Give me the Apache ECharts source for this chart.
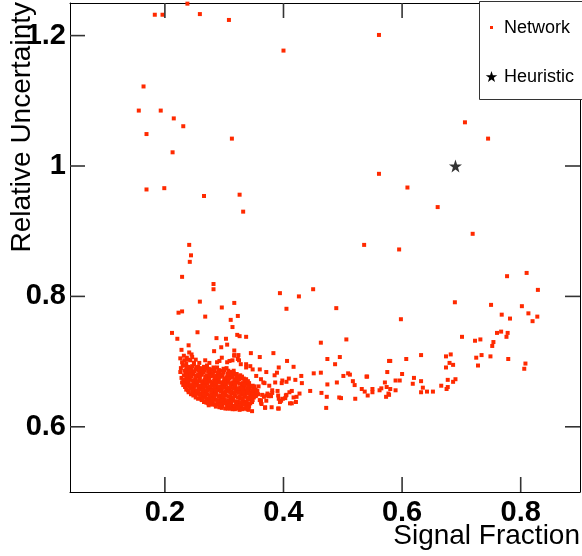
<!DOCTYPE html>
<html>
<head>
<meta charset="utf-8">
<script src="https://cdn.jsdelivr.net/npm/echarts@6/dist/echarts.min.js"></script>
<style>
html,body{margin:0;padding:0;background:#fff;}
#chart{width:582px;height:556px;}
</style>
</head>
<body>
<div id="chart"></div>
<script>
// ---- data ----
const xTicks = [0.2, 0.4, 0.6, 0.8];
const xTickLabels = ['0.2', '0.4', '0.6', '0.8'];
const yTicks = [0.6, 0.8, 1.0, 1.2];
const yTickLabels = ['0.6', '0.8', '1', '1.2'];
const xTitle = 'Signal Fraction';
const yTitle = 'Relative Uncertainty';
const seriesNames = ['Network', 'Heuristic'];

const heuristicPoint = [[0.69, 1.0]];

const sparseHigh = [
[0.238,1.249],[0.183,1.232],[0.196,1.232],[0.259,1.233],[0.308,1.224],[0.400,1.177],[0.164,1.122],[0.156,1.085],[0.193,1.085],[0.215,1.073],[0.231,1.061],[0.169,1.049],[0.313,1.042],[0.213,1.021],[0.169,0.964],[0.199,0.966],[0.266,0.954],[0.326,0.956],[0.332,0.930],
[0.561,1.201],[0.706,1.067],[0.745,1.042],[0.561,0.988],[0.609,0.967],[0.660,0.937],[0.719,0.896],[0.536,0.879],[0.595,0.872],
[0.241,0.879],[0.244,0.863],[0.242,0.853],[0.229,0.830],[0.282,0.819],[0.282,0.811],[0.394,0.805],[0.450,0.811],[0.426,0.800],[0.259,0.792],[0.317,0.790],[0.296,0.783],[0.405,0.781],[0.489,0.782],[0.223,0.775],[0.229,0.777],[0.268,0.769],[0.323,0.770],[0.311,0.764],[0.314,0.753],[0.212,0.744],[0.255,0.745],[0.221,0.735],[0.287,0.736],[0.303,0.735],[0.322,0.741],[0.326,0.739],[0.337,0.738],[0.506,0.734]
];

const sparseRight = [
[0.777,0.831],[0.810,0.836],[0.829,0.810],[0.689,0.791],[0.598,0.765],[0.750,0.787],[0.802,0.785],[0.768,0.772],[0.782,0.766],[0.813,0.774],[0.820,0.762],[0.828,0.769],[0.701,0.738],[0.760,0.744],[0.767,0.746],[0.778,0.744],[0.776,0.738],[0.723,0.732],[0.732,0.734],[0.754,0.730],[0.752,0.724],[0.725,0.706],[0.734,0.710],[0.749,0.708],[0.779,0.704],[0.728,0.694],[0.808,0.697],[0.806,0.689],[0.674,0.708],[0.682,0.711],[0.680,0.698],[0.686,0.695],[0.674,0.691],[0.632,0.710],[0.607,0.704],[0.580,0.701],[0.575,0.684],[0.540,0.677],[0.600,0.681],[0.620,0.675],[0.632,0.670],[0.618,0.666],[0.571,0.668],[0.589,0.671],[0.596,0.671],[0.690,0.673],[0.677,0.672],[0.666,0.663],[0.677,0.661],[0.675,0.658],[0.635,0.660],[0.632,0.653],[0.642,0.654],[0.652,0.654],[0.532,0.658],[0.537,0.654],[0.542,0.648],[0.550,0.658],[0.550,0.653],[0.562,0.656],[0.565,0.659],[0.580,0.658],[0.589,0.656],[0.573,0.646],[0.577,0.651],[0.574,0.661],[0.578,0.649],[0.686,0.669]
];

const sparseMiddle = [
[0.240,0.725],[0.228,0.718],[0.241,0.714],[0.245,0.711],[0.295,0.722],[0.283,0.716],[0.317,0.717],[0.317,0.710],[0.324,0.710],[0.345,0.713],[0.383,0.713],[0.360,0.707],[0.296,0.706],[0.314,0.702],[0.325,0.702],[0.305,0.699],[0.288,0.699],[0.406,0.701],[0.417,0.692],[0.337,0.696],[0.344,0.693],[0.360,0.688],[0.371,0.684],[0.392,0.691],[0.389,0.683],[0.385,0.679],[0.398,0.671],[0.409,0.674],[0.420,0.672],[0.430,0.678],[0.431,0.667],[0.451,0.682],[0.463,0.683],[0.474,0.665],[0.490,0.668],[0.501,0.678],[0.512,0.680],[0.509,0.682],[0.495,0.707],[0.463,0.729],[0.474,0.704],[0.487,0.696],[0.517,0.670],[0.520,0.664],[0.541,0.677],[0.445,0.655],[0.464,0.652],[0.473,0.646],[0.472,0.629],[0.494,0.645],[0.497,0.644],[0.521,0.643],[0.414,0.636],[0.421,0.638],[0.422,0.646],[0.394,0.638],[0.399,0.643],[0.391,0.628],[0.405,0.649],[0.391,0.648],[0.380,0.630],[0.369,0.630],[0.375,0.647],[0.360,0.641],[0.347,0.624],[0.339,0.627],[0.274,0.633],[0.305,0.726],[0.578,0.701],
[0.386,0.668],[0.368,0.667],[0.362,0.673],[0.410,0.653],[0.414,0.655],[0.427,0.651],[0.396,0.640],[0.392,0.643],[0.390,0.655],[0.381,0.656],[0.381,0.652],[0.376,0.649],[0.371,0.648],[0.373,0.651],[0.367,0.646],[0.364,0.649],[0.362,0.640],[0.363,0.635],[0.369,0.629],[0.392,0.628],[0.404,0.648],[0.411,0.636],[0.417,0.645],[0.403,0.644],[0.358,0.662],[0.397,0.667],[0.405,0.669],[0.321,0.628],[0.341,0.626],
[0.230,0.694],[0.249,0.698],[0.258,0.698],[0.268,0.702],[0.275,0.698],[0.292,0.701],[0.309,0.701],[0.317,0.709],[0.323,0.704],[0.328,0.696],[0.337,0.691],[0.348,0.688],[0.354,0.678],[0.366,0.668],[0.376,0.663],[0.379,0.647],[0.371,0.640],[0.362,0.637],
[0.226,0.705],[0.233,0.702],[0.229,0.699],[0.237,0.706],[0.243,0.702],[0.236,0.697],
[0.232,0.709],[0.239,0.703],[0.246,0.707],[0.252,0.703],[0.227,0.690],[0.226,0.684],[0.228,0.675],[0.229,0.668]
];

const denseCluster = [
[0.233,0.694],[0.241,0.691],[0.249,0.696],[0.256,0.692],[0.263,0.689],[0.271,0.694],[0.279,0.688],[0.288,0.691],[0.296,0.686],[0.304,0.690],[0.313,0.684],
[0.236,0.687],[0.244,0.684],[0.252,0.688],[0.259,0.683],[0.267,0.686],[0.275,0.682],[0.283,0.685],[0.291,0.680],[0.299,0.683],[0.308,0.679],[0.316,0.682],[0.324,0.677],
[0.232,0.679],[0.239,0.676],[0.247,0.680],[0.255,0.677],[0.262,0.680],[0.270,0.675],[0.278,0.678],[0.286,0.674],[0.294,0.677],[0.302,0.673],[0.311,0.676],[0.319,0.671],[0.327,0.674],[0.334,0.670],
[0.234,0.671],[0.242,0.673],[0.250,0.669],[0.258,0.672],[0.266,0.668],[0.273,0.671],[0.281,0.667],[0.289,0.670],[0.297,0.666],[0.305,0.669],[0.314,0.665],[0.322,0.668],[0.330,0.664],[0.338,0.667],[0.345,0.662],
[0.231,0.664],[0.238,0.666],[0.246,0.662],[0.254,0.665],[0.261,0.661],[0.269,0.664],[0.277,0.660],[0.285,0.663],[0.293,0.659],[0.301,0.662],[0.309,0.658],[0.317,0.661],[0.325,0.657],[0.333,0.660],[0.341,0.656],[0.349,0.659],[0.356,0.655],
[0.236,0.657],[0.243,0.659],[0.251,0.655],[0.259,0.658],[0.267,0.654],[0.274,0.657],[0.282,0.653],[0.290,0.656],[0.298,0.652],[0.306,0.655],[0.313,0.651],[0.321,0.654],[0.329,0.650],[0.337,0.653],[0.344,0.649],[0.352,0.652],
[0.248,0.648],[0.256,0.651],[0.264,0.647],[0.271,0.650],[0.279,0.646],[0.287,0.649],[0.295,0.645],[0.303,0.648],[0.311,0.644],[0.319,0.647],[0.327,0.643],[0.335,0.646],[0.342,0.642],[0.350,0.645],
[0.262,0.641],[0.270,0.643],[0.277,0.639],[0.285,0.642],[0.293,0.638],[0.301,0.641],[0.308,0.637],[0.316,0.640],[0.324,0.636],[0.332,0.639],[0.340,0.635],[0.347,0.638],
[0.281,0.634],[0.289,0.636],[0.297,0.632],[0.305,0.634],[0.313,0.631],[0.321,0.633],[0.329,0.630],[0.337,0.632],
[0.302,0.628],[0.318,0.627],[0.326,0.626],
[0.237,0.690],[0.245,0.688],[0.253,0.691],[0.260,0.687],[0.268,0.690],[0.276,0.686],[0.284,0.688],[0.292,0.684],[0.300,0.687],[0.309,0.682],[0.318,0.680],
[0.235,0.683],[0.240,0.681],[0.248,0.684],[0.256,0.680],[0.264,0.683],[0.271,0.679],[0.280,0.682],[0.287,0.678],[0.296,0.680],[0.304,0.676],[0.313,0.679],[0.321,0.675],[0.330,0.677],
[0.236,0.675],[0.244,0.677],[0.251,0.673],[0.259,0.676],[0.267,0.672],[0.275,0.674],[0.283,0.671],[0.291,0.673],[0.299,0.669],[0.307,0.672],[0.315,0.668],[0.323,0.671],[0.331,0.667],[0.340,0.670],
[0.233,0.668],[0.240,0.669],[0.248,0.666],[0.255,0.669],[0.263,0.665],[0.271,0.667],[0.279,0.664],[0.287,0.666],[0.295,0.662],[0.303,0.665],[0.311,0.661],[0.319,0.664],[0.327,0.660],[0.335,0.663],[0.343,0.659],[0.351,0.662],
[0.234,0.661],[0.241,0.662],[0.249,0.659],[0.257,0.661],[0.265,0.658],[0.272,0.660],[0.280,0.657],[0.288,0.659],[0.296,0.655],[0.304,0.658],[0.312,0.654],[0.320,0.657],[0.328,0.653],[0.336,0.656],[0.345,0.652],[0.354,0.648],
[0.240,0.653],[0.247,0.652],[0.254,0.654],[0.262,0.651],[0.270,0.653],[0.278,0.650],[0.286,0.652],[0.294,0.648],[0.302,0.651],[0.310,0.647],[0.318,0.650],[0.326,0.646],[0.334,0.649],[0.341,0.645],[0.348,0.641],
[0.252,0.645],[0.260,0.644],[0.268,0.646],[0.275,0.643],[0.283,0.645],[0.291,0.641],[0.299,0.644],[0.307,0.640],[0.315,0.643],[0.323,0.639],[0.331,0.642],[0.338,0.638],
[0.266,0.638],[0.273,0.636],[0.281,0.638],[0.289,0.635],[0.297,0.637],[0.305,0.631],[0.312,0.634],[0.320,0.630],[0.328,0.633],[0.334,0.628],
[0.342,0.631],[0.292,0.630],[0.310,0.628],
[0.239,0.692],[0.246,0.693],[0.259,0.690],[0.266,0.692],[0.274,0.689],[0.282,0.691],[0.291,0.687],[0.299,0.689],[0.307,0.686],[0.316,0.686],[0.321,0.681],
[0.233,0.686],[0.242,0.686],[0.250,0.685],[0.257,0.686],[0.265,0.684],[0.273,0.685],[0.281,0.680],[0.289,0.683],[0.297,0.679],[0.306,0.681],[0.314,0.677],[0.327,0.679],[0.333,0.674],
[0.237,0.679],[0.243,0.680],[0.252,0.678],[0.260,0.679],[0.268,0.677],[0.276,0.678],[0.284,0.676],[0.292,0.677],[0.300,0.674],[0.309,0.674],[0.317,0.673],[0.325,0.673],[0.337,0.673],[0.342,0.667],
[0.231,0.672],[0.238,0.671],[0.246,0.671],[0.253,0.670],[0.261,0.670],[0.269,0.670],[0.277,0.669],[0.285,0.669],[0.293,0.668],[0.301,0.667],[0.310,0.667],[0.318,0.666],[0.326,0.666],[0.334,0.665],[0.341,0.664],[0.348,0.663],
[0.236,0.663],[0.244,0.664],[0.251,0.663],[0.259,0.663],[0.267,0.662],[0.275,0.662],[0.283,0.661],[0.291,0.661],[0.299,0.660],[0.307,0.660],[0.315,0.659],[0.323,0.659],[0.331,0.658],[0.339,0.658],[0.347,0.655],[0.353,0.657],
[0.239,0.656],[0.246,0.656],[0.256,0.656],[0.263,0.656],[0.271,0.656],[0.278,0.655],[0.286,0.655],[0.294,0.654],[0.302,0.654],[0.310,0.653],[0.317,0.653],[0.325,0.652],[0.333,0.652],[0.340,0.651],[0.348,0.650],[0.357,0.650],
[0.244,0.650],[0.252,0.650],[0.259,0.649],[0.267,0.649],[0.275,0.648],[0.283,0.648],[0.291,0.647],[0.299,0.647],[0.307,0.646],[0.315,0.645],[0.323,0.645],[0.331,0.644],[0.339,0.644],[0.346,0.645],[0.353,0.647],
[0.256,0.643],[0.264,0.642],[0.272,0.641],[0.280,0.641],[0.288,0.640],[0.296,0.640],[0.304,0.639],[0.312,0.639],[0.320,0.638],[0.328,0.637],[0.336,0.636],[0.344,0.636],
[0.270,0.637],[0.277,0.635],[0.285,0.634],[0.293,0.634],[0.301,0.636],[0.309,0.633],[0.317,0.632],[0.325,0.632],[0.333,0.634],[0.339,0.630],
[0.286,0.631],[0.296,0.629],[0.306,0.628],[0.314,0.627],[0.323,0.629],[0.331,0.627]
];

const networkPoints = [].concat(sparseHigh, sparseRight, sparseMiddle, denseCluster);

// ---- chart ----
const RED = '#ff2a00';
const STAR = 'path://M50,0 L61.8,35.1 L98.1,35.1 L68.8,56.8 L79.4,91 L50,70 L20.6,91 L31.2,56.8 L1.9,35.1 L38.2,35.1 Z';
const FONT = '"Liberation Sans", Arial, Helvetica, sans-serif';
const X_MIN = 0.04, X_MAX = 0.9, Y_MIN = 0.5, Y_MAX = 1.25;
const TICK_LEN = 15;
const TICK_W = 1.6;
const TICK_COLOR = '#333';

function labelFor(ticks, labels) {
  return function (v) {
    let best = 0;
    for (let i = 1; i < ticks.length; i++) {
      if (Math.abs(ticks[i] - v) < Math.abs(ticks[best] - v)) best = i;
    }
    return labels[best];
  };
}

// inside tick marks drawn as thin rect symbols placed on the frame by the axes' scales
function tickSeries(name, data, size, offset) {
  return {
    name: name, type: 'scatter', xAxisIndex: 0, yAxisIndex: 0,
    symbol: 'rect', symbolSize: size, symbolOffset: offset,
    itemStyle: {color: TICK_COLOR, opacity: 1},
    data: data, clip: false, silent: true, z: 4,
    tooltip: {show: false}, emphasis: {disabled: true}
  };
}

const chart = echarts.init(document.getElementById('chart'), null, {renderer: 'canvas'});

const lineStyle = {show: true, onZero: false, lineStyle: {color: '#000', width: 1}};
const legendStar = [[491.5,71],[492.9,75.2],[497.3,75.2],[493.8,77.8],[495.0,81.9],[491.5,79.4],[488.0,81.9],[489.2,77.8],[485.7,75.2],[490.1,75.2]];

chart.setOption({
  animation: false,
  backgroundColor: '#fff',
  grid: {left: 70, right: 2, top: 3, bottom: 64, containLabel: false},
  xAxis: [
    {
      type: 'value', min: X_MIN, max: X_MAX, position: 'bottom',
      axisLine: lineStyle,
      axisTick: {show: false},
      axisLabel: {
        customValues: xTicks, formatter: labelFor(xTicks, xTickLabels),
        fontFamily: FONT, fontWeight: 'bold', fontSize: 29, color: '#000', margin: 6
      },
      splitLine: {show: false}
    },
    {
      type: 'value', min: X_MIN, max: X_MAX, position: 'top',
      axisLine: lineStyle, axisTick: {show: false},
      axisLabel: {show: false}, splitLine: {show: false}
    }
  ],
  yAxis: [
    {
      type: 'value', min: Y_MIN, max: Y_MAX, position: 'left',
      axisLine: lineStyle,
      axisTick: {show: false},
      axisLabel: {
        customValues: yTicks, formatter: labelFor(yTicks, yTickLabels),
        fontFamily: FONT, fontWeight: 'bold', fontSize: 29, color: '#000', margin: 4,
        padding: [6, 0, 0, 0]
      },
      splitLine: {show: false}
    },
    {
      type: 'value', min: Y_MIN, max: Y_MAX, position: 'right',
      axisLine: lineStyle, axisTick: {show: false},
      axisLabel: {show: false}, splitLine: {show: false}
    }
  ],
  series: [
    {
      name: seriesNames[0], type: 'scatter', xAxisIndex: 0, yAxisIndex: 0,
      symbol: 'rect', symbolSize: 4,
      itemStyle: {color: RED, opacity: 1},
      data: networkPoints, clip: true, z: 2
    },
    {
      name: seriesNames[1], type: 'scatter', xAxisIndex: 0, yAxisIndex: 0,
      symbol: STAR, symbolSize: 13,
      itemStyle: {color: '#000'},
      data: heuristicPoint, z: 3
    },
    tickSeries('xTicksBottom', xTicks.map(function (v) { return [v, Y_MIN]; }), [TICK_W, TICK_LEN], [0, -TICK_LEN / 2]),
    tickSeries('xTicksTop', xTicks.map(function (v) { return [v, Y_MAX]; }), [TICK_W, TICK_LEN], [0, TICK_LEN / 2]),
    tickSeries('yTicksLeft', yTicks.map(function (v) { return [X_MIN, v]; }), [TICK_LEN, TICK_W], [TICK_LEN / 2, 0]),
    tickSeries('yTicksRight', yTicks.map(function (v) { return [X_MAX, v]; }), [TICK_LEN, TICK_W], [-TICK_LEN / 2, 0])
  ],
  graphic: [
    {
      type: 'text', x: 580, y: 536,
      style: {text: xTitle, font: '28px ' + FONT, fill: '#000', align: 'right', verticalAlign: 'middle'}
    },
    {
      type: 'text', x: 22, y: 2, rotation: Math.PI / 2,
      style: {text: yTitle, font: '28px ' + FONT, fill: '#000', align: 'right', verticalAlign: 'middle'}
    },
    {
      type: 'group', z: 100,
      children: [
        {type: 'rect', z: 100, shape: {x: 479.5, y: 1.5, width: 110, height: 98}, style: {fill: '#fff', stroke: '#333', lineWidth: 1}},
        {type: 'rect', z: 101, shape: {x: 490, y: 26, width: 3, height: 3}, style: {fill: RED}},
        {type: 'text', z: 101, x: 504, y: 28, style: {text: seriesNames[0], font: '18px ' + FONT, fill: '#000', align: 'left', verticalAlign: 'middle'}},
        {type: 'polygon', z: 101, shape: {points: legendStar}, style: {fill: '#000'}},
        {type: 'text', z: 101, x: 504, y: 77, style: {text: seriesNames[1], font: '18px ' + FONT, fill: '#000', align: 'left', verticalAlign: 'middle'}}
      ]
    }
  ]
});
</script>
</body>
</html>
